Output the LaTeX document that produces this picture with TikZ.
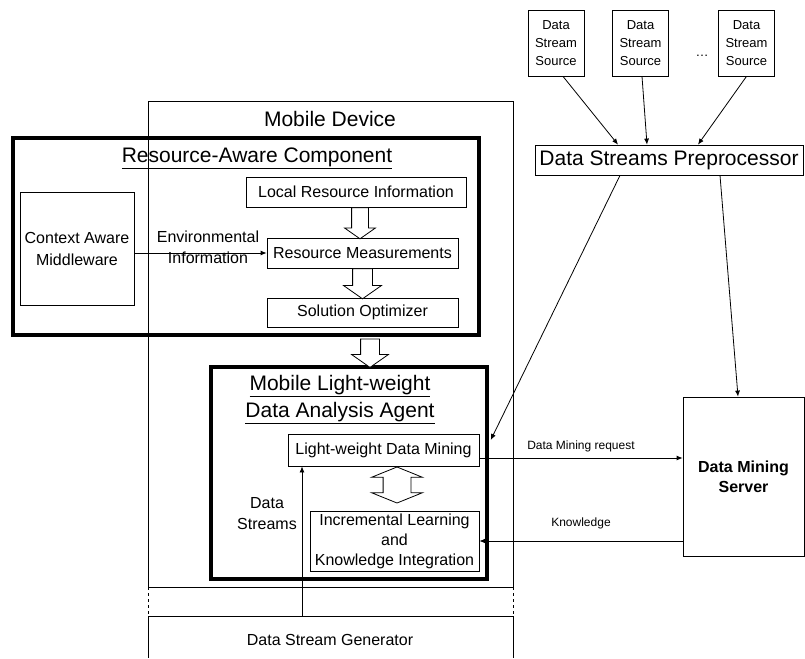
\documentclass[tikz,border=0pt]{standalone}
\usepackage{fontspec}
\setmainfont{Liberation Sans}
\usetikzlibrary{arrows.meta,positioning,shapes.arrows}

\begin{document}
\begin{tikzpicture}[x=1pt, y=-1pt, >={Latex[length=6pt,width=5pt]},
      every node/.append style={align=center, inner sep=0pt},
      infobox/.style={draw, line width=0.8pt, font=\fontsize{16}{20}\selectfont},
      thickframe/.style={draw, line width=3.5pt},
      bigtext/.style={font=\fontsize{21}{27}\selectfont},
      midtext/.style={font=\fontsize{16}{21}\selectfont},
      smalltext/.style={font=\fontsize{12}{14}\selectfont},
      src/.style={infobox, minimum width=56pt, minimum height=66pt, font=\fontsize{13}{18}\selectfont},
      hollow/.style={single arrow, draw, fill=white, line width=0.8pt, rotate=-90, anchor=tail,
        inner ysep=8pt, single arrow head extend=7pt, single arrow tip angle=110},
      link/.style={->, line width=0.8pt}]

  \useasboundingbox (0,0) rectangle (805,658);

  % mobile device
  \draw[line width=0.8pt] (148,587) -- (148,101) -- (513,101) -- (513,587)
                          (148,587) -- (513,587) (148,616) -- (513,616)
                          (148,616) -- (148,658) (513,616) -- (513,658);
  \draw[line width=0.8pt, dash pattern=on 3pt off 3pt] (148,587) -- (148,616) (513,587) -- (513,616);
  \node[bigtext] (md) at (330,119) {Mobile Device};
  \node[midtext] (dsg) at (330,640) {Data Stream Generator};
  \coordinate (gen) at (302,616);

  % resource-aware component
  \node[thickframe, minimum width=466pt, minimum height=197pt] (rac) at (246,236.5) {};
  \node[bigtext] (ractitle) at (257,158) {\underline{Resource-Aware Component}};
  \node[infobox, minimum width=114pt, minimum height=113pt, font=\fontsize{16}{22}\selectfont] (cam) at (77,248.5) {Context Aware\\Middleware};
  \node[infobox, minimum width=220pt, minimum height=30pt] (lri) at (356,192) {Local Resource Information};
  \node[infobox, minimum width=191pt, minimum height=30pt] (rm) at (362.5,253) {Resource Measurements};
  \node[infobox, minimum width=191pt, minimum height=29pt] (so) at (362.5,312.5) {Solution Optimizer};
  \node[midtext] (env) at (208,247) {Environmental\\Information};

  \node[hollow, minimum height=31pt] (h1) at ([xshift=4pt]lri.south) {};
  \node[hollow, minimum height=30pt, inner ysep=9.5pt, single arrow head extend=9pt] (h2) at (rm.south) {};
  \draw[link] (cam.east |- rm.west) -- (rm.west);

  % analysis agent
  \node[thickframe, minimum width=276pt, minimum height=212pt] (agent) at (349,473) {};
  \node[hollow, minimum height=28.5pt, inner ysep=9pt, single arrow head extend=9pt] (h3) at ([xshift=124pt,yshift=-1.75pt]rac.south) {};
  \node[bigtext] (agenttitle) at (340,400) {\underline{Mobile Light-weight}\\\underline{Data Analysis Agent}};
  \node[infobox, minimum width=191pt, minimum height=32pt] (ldm) at (383.5,450) {Light-weight Data Mining};
  \node[infobox, minimum width=169pt, minimum height=60pt] (ilk) at (394.5,541) {Incremental Learning\\and\\Knowledge Integration};
  \node[double arrow, draw, fill=white, line width=0.8pt, rotate=90, inner ysep=13.5pt,
        double arrow head extend=11.5pt, double arrow tip angle=136, minimum height=36pt] (h4) at (397,485) {};
  \node[midtext] (dstreams) at (267,514) {Data\\Streams};
  \draw[link] (gen) -- (gen |- ldm.south);

  % data stream sources
  \node[src] (s1) at (556,43) {Data\\Stream\\Source};
  \node[src] (s2) at (640.5,43) {Data\\Stream\\Source};
  \node[src] (s3) at (746.5,43) {Data\\Stream\\Source};
  \node[font=\fontsize{13}{18}\selectfont] (dots) at (702,56) {…};
  \node[infobox, bigtext, minimum width=268pt, minimum height=30pt] (dsp) at (669,160) {Data Streams Preprocessor};
  \node[infobox, font=\fontsize{16}{20}\bfseries, minimum width=121pt, minimum height=159pt] (dms) at (743.5,476.5) {Data Mining\\Server};

  \draw[link] ([xshift=7pt]s1.south) -- ([xshift=-51pt]dsp.north);
  \draw[link] ([xshift=1.5pt]s2.south) -- ([xshift=-22pt]dsp.north);
  \draw[link] (s3.south) -- ([xshift=29pt]dsp.north);
  \draw[link] ([xshift=-49pt]dsp.south) -- ([xshift=2pt,yshift=33pt]agent.east);
  \draw[link] ([xshift=51pt]dsp.south) -- ([xshift=-5.5pt]dms.north);
  \draw[link] ([yshift=-8pt]ldm.east) -- ([yshift=-8pt]ldm.east -| dms.west)
    node[midway, above=6pt, smalltext] {Data Mining request};
  \draw[link] (dms.west |- ilk.east) -- (ilk.east)
    node[midway, above=12pt, smalltext] {Knowledge};
\end{tikzpicture}
\end{document}
